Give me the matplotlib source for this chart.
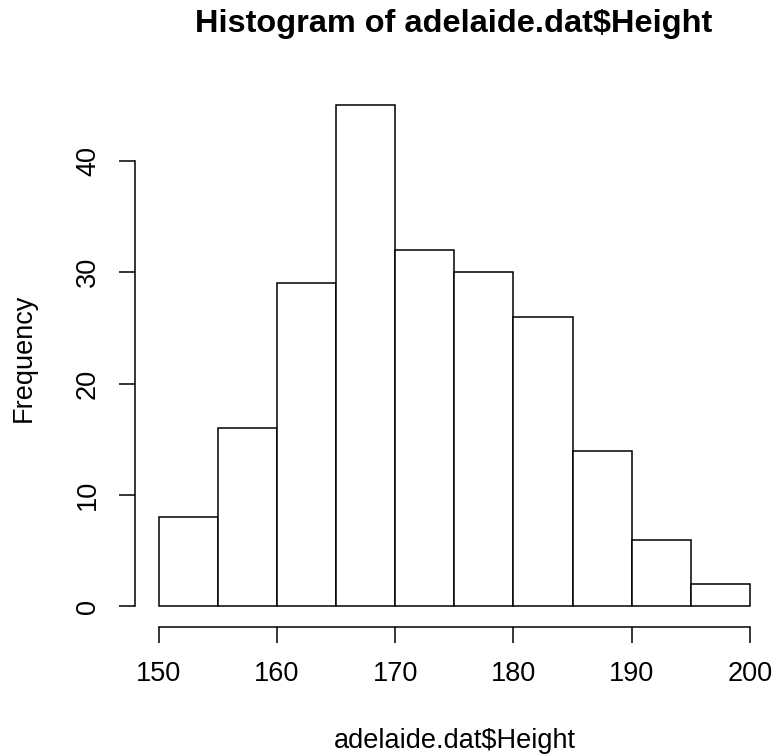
import matplotlib.pyplot as plt
import numpy as np

plt.rcParams['font.family'] = ['Liberation Sans', 'DejaVu Sans']

# histogram bins (5 cm wide) and counts
bin_edges = [150, 155, 160, 165, 170, 175, 180, 185, 190, 195, 200]
counts = [8, 16, 29, 45, 32, 30, 26, 14, 6, 2]
x_ticks = [150, 160, 170, 180, 190, 200]
y_ticks = [0, 10, 20, 30, 40]

W, H = 774, 755
fig = plt.figure(figsize=(W / 100, H / 100), dpi=100)
ax = fig.add_axes([135 / W, 1 - 626.5 / H, (773.6 - 135) / W, (626.5 - 85.2) / H])

lefts = np.array(bin_edges[:-1])
widths = np.diff(bin_edges)
ax.bar(lefts, counts, width=widths, align='edge', color='white',
       edgecolor='black', linewidth=1.1)

ax.set_xlim(148, 202)
ax.set_ylim(-1.8, 46.8)

for s in ['top', 'right']:
    ax.spines[s].set_visible(False)
ax.spines['left'].set_bounds(0, 40)
ax.spines['bottom'].set_bounds(150, 200)
ax.spines['left'].set_linewidth(1.1)
ax.spines['bottom'].set_linewidth(1.1)

ax.set_xticks(x_ticks)
ax.set_yticks(y_ticks)
ax.set_yticklabels([str(v) for v in y_ticks], rotation=90, va='center')
ax.tick_params(axis='both', direction='out', length=11.5, width=1.1,
               labelsize=19.5, pad=13, colors='black')

fig.text(454 / W, 1 - 24 / H, 'Histogram of adelaide.dat$Height',
         ha='center', va='center', fontsize=23.4, fontweight='bold')
fig.text(455 / W, 1 - 741 / H, 'adelaide.dat$Height',
         ha='center', va='center', fontsize=19.5)
fig.text(24 / W, 1 - 358 / H, 'Frequency', rotation=90,
         ha='center', va='center', fontsize=19.5)

plt.savefig('out.png', dpi=100)
